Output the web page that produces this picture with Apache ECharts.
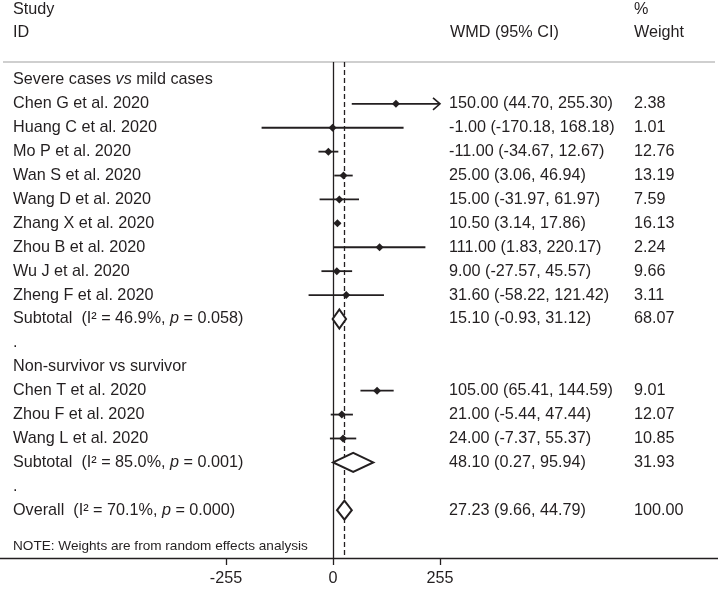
<!DOCTYPE html>
<html><head><meta charset="utf-8">
<script src="https://cdn.jsdelivr.net/npm/echarts@6/dist/echarts.min.js"></script>
<style>html,body{margin:0;padding:0;background:#fff}#c{width:718px;height:589px}</style>
</head><body><div id="c"></div>
<script>
// ---- data ----
const rowLabels = [
  'Severe cases {i|vs} mild cases',
  'Chen G et al. 2020','Huang C et al. 2020','Mo P et al. 2020','Wan S et al. 2020',
  'Wang D et al. 2020','Zhang X et al. 2020','Zhou B et al. 2020','Wu J et al. 2020',
  'Zheng F et al. 2020',
  'Subtotal  (I\u00B2 = 46.9%, {i|p} = 0.058)',
  '.',
  'Non-survivor vs survivor',
  'Chen T et al. 2020','Zhou F et al. 2020','Wang L et al. 2020',
  'Subtotal  (I\u00B2 = 85.0%, {i|p} = 0.001)',
  '.',
  'Overall  (I\u00B2 = 70.1%, {i|p} = 0.000)'
];
const rowTypes = ['head','study','study','study','study','study','study','study','study','study','sub','blank','head','study','study','study','sub','blank','sub'];
const est = [null,150.00,-1.00,-11.00,25.00,15.00,10.50,111.00,9.00,31.60,15.10,null,null,105.00,21.00,24.00,48.10,null,27.23];
const lo  = [null,44.70,-170.18,-34.67,3.06,-31.97,3.14,1.83,-27.57,-58.22,-0.93,null,null,65.41,-5.44,-7.37,0.27,null,9.66];
const hi  = [null,255.30,168.18,12.67,46.94,61.97,17.86,220.17,45.57,121.42,31.12,null,null,144.59,47.44,55.37,95.94,null,44.79];
const weights = ['','2.38','1.01','12.76','13.19','7.59','16.13','2.24','9.66','3.11','68.07','','','9.01','12.07','10.85','31.93','','100.00'];
const xTicks = [-255, 0, 255];
const plotLimit = 255;
const overallEst = 27.23;
const noteText = 'NOTE: Weights are from random effects analysis';

// ---- chart ----
const FONT = '"Liberation Sans", Arial, sans-serif';
const INK = '#231f20';
const FS = 16.2;
const chart = echarts.init(document.getElementById('c'), null, {renderer:'canvas'});

const markData = [];
const textData = [];
rowLabels.forEach((l, i) => {
  textData.push([i, l, est[i] != null ? est[i].toFixed(2) + ' (' + lo[i].toFixed(2) + ', ' + hi[i].toFixed(2) + ')' : '', weights[i]]);
  if (est[i] != null) markData.push([i, est[i], lo[i], hi[i], rowTypes[i] === 'sub' ? 1 : 0]);
});
textData.push([19.5, noteText, '', '', 'note']);

function renderMark(params, api) {
  const row = api.value(0), e = api.value(1), l = api.value(2), h = api.value(3), isSub = api.value(4);
  const pe = api.coord([e, row]);
  const y = pe[1];
  const xl = api.coord([Math.max(l, -plotLimit), row])[0];
  const xh = api.coord([Math.min(h, plotLimit), row])[0];
  const children = [];
  if (isSub) {
    const hh = 9.5;
    children.push({type:'polygon', shape:{points:[[xl,y],[pe[0],y-hh],[xh,y],[pe[0],y+hh]]},
      style:{fill:'#fff', stroke:INK, lineWidth:2}});
  } else {
    children.push({type:'line', shape:{x1:xl,y1:y,x2:xh,y2:y}, style:{stroke:INK, lineWidth:1.8}});
    if (h > plotLimit) {
      children.push({type:'polyline', shape:{points:[[xh-7,y-6],[xh,y],[xh-7,y+6]]}, style:{stroke:INK, lineWidth:1.6, fill:null}});
    }
    if (l < -plotLimit) {
      children.push({type:'polyline', shape:{points:[[xl+7,y-6],[xl,y],[xl+7,y+6]]}, style:{stroke:INK, lineWidth:1.6, fill:null}});
    }
    const d = 4;
    children.push({type:'polygon', shape:{points:[[pe[0]-d,y],[pe[0],y-d],[pe[0]+d,y],[pe[0],y+d]]}, style:{fill:INK}});
  }
  return {type:'group', children};
}

function renderText(params, api) {
  const row = api.value(0);
  const y = api.coord([0, row])[1];
  const d = textData[params.dataIndex];
  const isNote = d[4] === 'note';
  const fs = isNote ? 13.6 : FS;
  const rich = {i:{fontStyle:'italic', fontSize:fs, fontFamily:FONT, fill:INK}};
  const children = [
    {type:'text', x:13, y:y, style:{text:d[1], fontSize:fs, fontFamily:FONT, fill:INK, verticalAlign:'middle', align:'left', rich}}
  ];
  if (d[2]) children.push({type:'text', x:449, y:y, style:{text:d[2], fontSize:FS, fontFamily:FONT, fill:INK, verticalAlign:'middle'}});
  if (d[3]) children.push({type:'text', x:634, y:y, style:{text:d[3], fontSize:FS, fontFamily:FONT, fill:INK, verticalAlign:'middle'}});
  return {type:'group', children};
}

chart.setOption({
  animation:false,
  backgroundColor:'#fff',
  grid:{left:0, right:0, top:62, bottom:31, containLabel:false},
  xAxis:{type:'value', min:-793.6, max:917.5, position:'bottom',
    axisLine:{onZero:false, lineStyle:{color:INK, width:1.3}},
    axisTick:{show:true, length:7, inside:false, customValues:xTicks, lineStyle:{color:INK, width:1.3}},
    axisLabel:{customValues:xTicks, margin:13, fontSize:FS, fontFamily:FONT, color:INK},
    splitLine:{show:false}},
  yAxis:{type:'value', min:-0.75, max:20, inverse:true, show:false},
  graphic:[
    {type:'line', shape:{x1:3, y1:62, x2:715, y2:62}, style:{stroke:'#cfcfcf', lineWidth:2}},
    {type:'text', x:13, y:10, style:{text:'Study', fontSize:FS, fontFamily:FONT, fill:INK, verticalAlign:'middle'}},
    {type:'text', x:13, y:33, style:{text:'ID', fontSize:FS, fontFamily:FONT, fill:INK, verticalAlign:'middle'}},
    {type:'text', x:450, y:33, style:{text:'WMD (95% CI)', fontSize:FS, fontFamily:FONT, fill:INK, verticalAlign:'middle'}},
    {type:'text', x:634, y:10, style:{text:'%', fontSize:FS, fontFamily:FONT, fill:INK, verticalAlign:'middle'}},
    {type:'text', x:634, y:33, style:{text:'Weight', fontSize:FS, fontFamily:FONT, fill:INK, verticalAlign:'middle'}}
  ],
  series:[
    {type:'custom', renderItem:() => null, data:[], z:1,
      markLine:{silent:true, symbol:'none', label:{show:false}, z:1,
        data:[
          {xAxis:0, lineStyle:{color:INK, width:1.3, type:'solid'}},
          {xAxis:overallEst, lineStyle:{color:INK, width:1.3, type:[5,3]}}
        ]}},
    {type:'custom', renderItem:renderMark, data:markData, z:3},
    {type:'custom', renderItem:renderText, data:textData, z:4}
  ]
});
</script></body></html>
